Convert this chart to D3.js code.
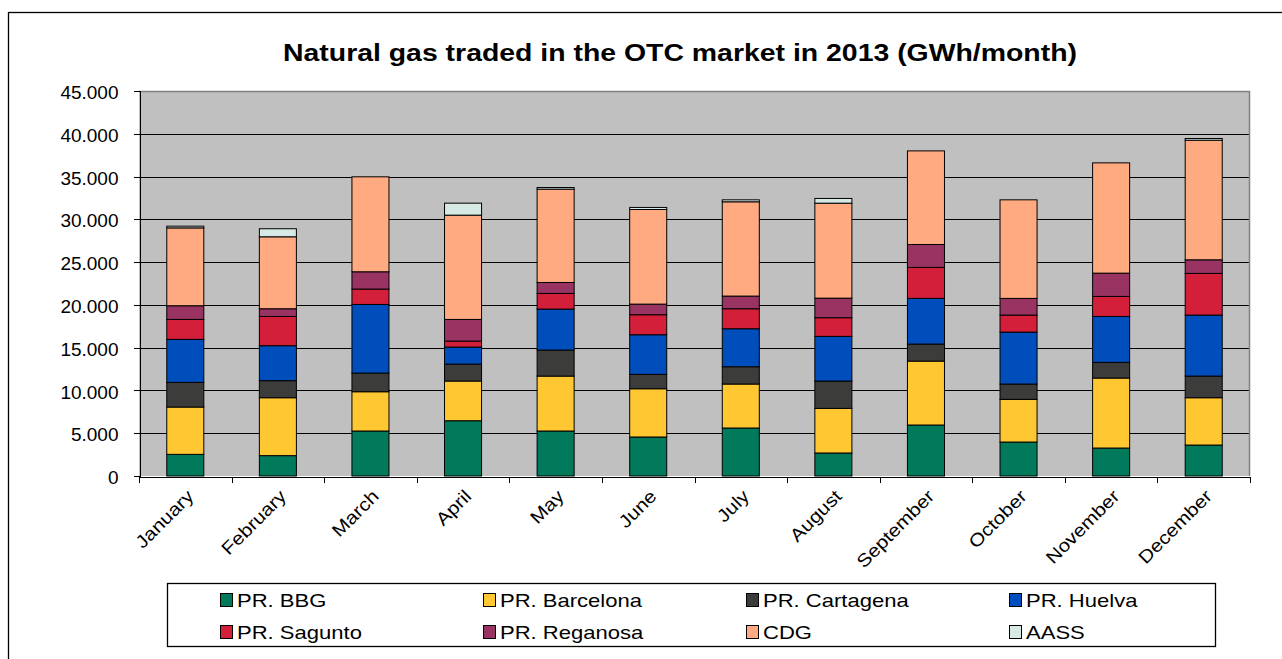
<!DOCTYPE html>
<html lang="en">
<head>
    <meta charset="UTF-8">
    <title>Natural gas traded in the OTC market in 2013</title>
    <script src="https://d3js.org/d3.v7.min.js"></script>
    <style>
        body { margin: 0; background: #fff; }
        text { font-family: "Liberation Sans", Arial, sans-serif; fill: #000; }
        .grid line { stroke: #000; stroke-width: 1px; shape-rendering: crispEdges; }
        .axis path, .axis line { stroke: #000; shape-rendering: crispEdges; }
        .axis text { fill: #000; }
        .bar rect { stroke: #000; stroke-width: 1px; }
    </style>
</head>
<body>
    <svg width="1282" height="659"></svg>

    <script>
        // Data (GWh per month)
        const months = ["January", "February", "March", "April", "May", "June",
                        "July", "August", "September", "October", "November", "December"];
        const bbg       = [2530, 2380, 5260, 6460, 5260, 4560, 5610, 2690, 5960, 3970, 3270, 3620];
        const barcelona = [5530, 6770, 4590, 4640, 6420, 5640, 5140, 5210, 7470, 4990, 8180, 5530];
        const cartagena = [2880, 1990, 2180, 1980, 3040, 1680, 2020, 3200, 1990, 1790, 1830, 2530];
        const huelva    = [5030, 4090, 8020, 1990, 4790, 4630, 4440, 5220, 5340, 6070, 5370, 7130];
        const sagunto   = [2330, 3420, 1800, 700, 1830, 2340, 2340, 2180, 3620, 1990, 2340, 4870];
        const reganosa  = [1600, 900, 2020, 2530, 1280, 1240, 1480, 2290, 2680, 1950, 2720, 1590];
        const cdg       = [9100, 8410, 11100, 12190, 10910, 11060, 11020, 11100, 10940, 11520, 12890, 13980];
        const aass      = [200, 940, 0, 1400, 190, 240, 230, 550, 0, 0, 0, 200];

        const seriesNames = ["PR. BBG", "PR. Barcelona", "PR. Cartagena", "PR. Huelva",
                             "PR. Sagunto", "PR. Reganosa", "CDG", "AASS"];
        const seriesValues = [bbg, barcelona, cartagena, huelva, sagunto, reganosa, cdg, aass];
        const colors = ["#007a5a", "#ffc832", "#3c3d3a", "#004ebc", "#d41f3b", "#993362", "#ffaa80", "#d6e9e5"];
        const yTicks = [0, 5000, 10000, 15000, 20000, 25000, 30000, 35000, 40000, 45000];

        // table for d3.stack
        const table = months.map((m, i) => {
            const row = { month: m };
            seriesNames.forEach((s, j) => row[s] = seriesValues[j][i]);
            return row;
        });

        const svg = d3.select("svg");

        // outer frame
        svg.append("rect")
            .attr("x", 8.5).attr("y", 12.5)
            .attr("width", 1300).attr("height", 700)
            .attr("fill", "none").attr("stroke", "#000").attr("stroke-width", 1.3);

        const plotL = 139, plotR = 1250, plotT = 91, plotB = 476;

        const x = d3.scaleBand().domain(months).range([plotL, plotR])
            .paddingInner(0.6).paddingOuter(0.3);
        const y = d3.scaleLinear().domain([0, 45000]).range([plotB, plotT]);

        const locale = d3.formatLocale({ decimal: ",", thousands: ".", grouping: [3], currency: ["", "€"] });
        const fmt = locale.format(",d");

        // plot background
        svg.append("rect")
            .attr("x", plotL).attr("y", plotT)
            .attr("width", plotR - plotL).attr("height", plotB - plotT)
            .attr("fill", "#c0c0c0");

        // gridlines
        svg.append("g").attr("class", "grid")
            .selectAll("line")
            .data(yTicks.filter(v => v > 0 && v < 45000))
            .join("line")
            .attr("x1", plotL).attr("x2", plotR)
            .attr("y1", d => Math.round(y(d)) + 0.5).attr("y2", d => Math.round(y(d)) + 0.5);

        // top and right border of the plot area
        svg.append("path")
            .attr("d", `M${plotL},${plotT + 0.5}H${plotR - 0.5}V${plotB}`)
            .attr("fill", "none").attr("stroke", "#808080").attr("stroke-width", 1.5);

        // stacked bars
        const stacked = d3.stack().keys(seriesNames)(table);

        svg.append("g").attr("class", "bar")
            .selectAll("g")
            .data(stacked)
            .join("g")
            .attr("fill", (d, i) => colors[i])
            .selectAll("rect")
            .data(d => d.filter(p => p[1] - p[0] > 0))
            .join("rect")
            .attr("x", d => x(d.data.month))
            .attr("width", x.bandwidth())
            .attr("y", d => y(d[1]))
            .attr("height", d => y(d[0]) - y(d[1]));

        // y axis
        const yAxis = svg.append("g").attr("class", "axis")
            .attr("transform", `translate(${plotL + 0.5},0)`)
            .call(d3.axisLeft(y).tickValues(yTicks).tickFormat(fmt).tickSize(6).tickPadding(15));
        yAxis.selectAll("text")
            .attr("font-size", 19)
            .attr("dy", "0.4em");

        // x axis: tick marks between categories
        const xb = d3.scaleLinear().domain([0, months.length]).range([plotL, plotR]);
        svg.append("g").attr("class", "axis")
            .attr("transform", `translate(0,${plotB + 0.5})`)
            .call(d3.axisBottom(xb).ticks(months.length).tickFormat("").tickSize(6));

        // rotated month labels
        svg.append("g")
            .selectAll("text")
            .data(months)
            .join("text")
            .attr("font-size", 18)
            .attr("text-anchor", "end")
            .attr("dominant-baseline", "hanging")
            .attr("transform", d => `translate(${x(d) + x.bandwidth() / 2},${plotB + 12}) rotate(-45) scale(1.15,1)`)
            .text(d => d);

        // title
        svg.append("text")
            .attr("x", 680).attr("y", 61)
            .attr("text-anchor", "middle")
            .attr("font-size", 23)
            .attr("font-weight", "bold")
            .attr("textLength", 794)
            .attr("lengthAdjust", "spacingAndGlyphs")
            .text("Natural gas traded in the OTC market in 2013 (GWh/month)");

        // legend
        const legend = svg.append("g");
        legend.append("rect")
            .attr("x", 167.5).attr("y", 583.5)
            .attr("width", 1048).attr("height", 63)
            .attr("fill", "#fff").attr("stroke", "#000").attr("stroke-width", 1.3);

        const item = legend.selectAll("g.item")
            .data(seriesNames)
            .join("g")
            .attr("class", "item")
            .attr("transform", (d, i) => `translate(${220 + (i % 4) * 263},${i < 4 ? 593 : 625})`);

        item.append("rect")
            .attr("x", 0.5).attr("y", 0.5)
            .attr("width", 12).attr("height", 13)
            .attr("fill", (d, i) => colors[i])
            .attr("stroke", "#000");

        item.append("text")
            .attr("transform", "translate(17,14) scale(1.16,1)")
            .attr("font-size", 19)
            .text(d => d);
    </script>
</body>
</html>
